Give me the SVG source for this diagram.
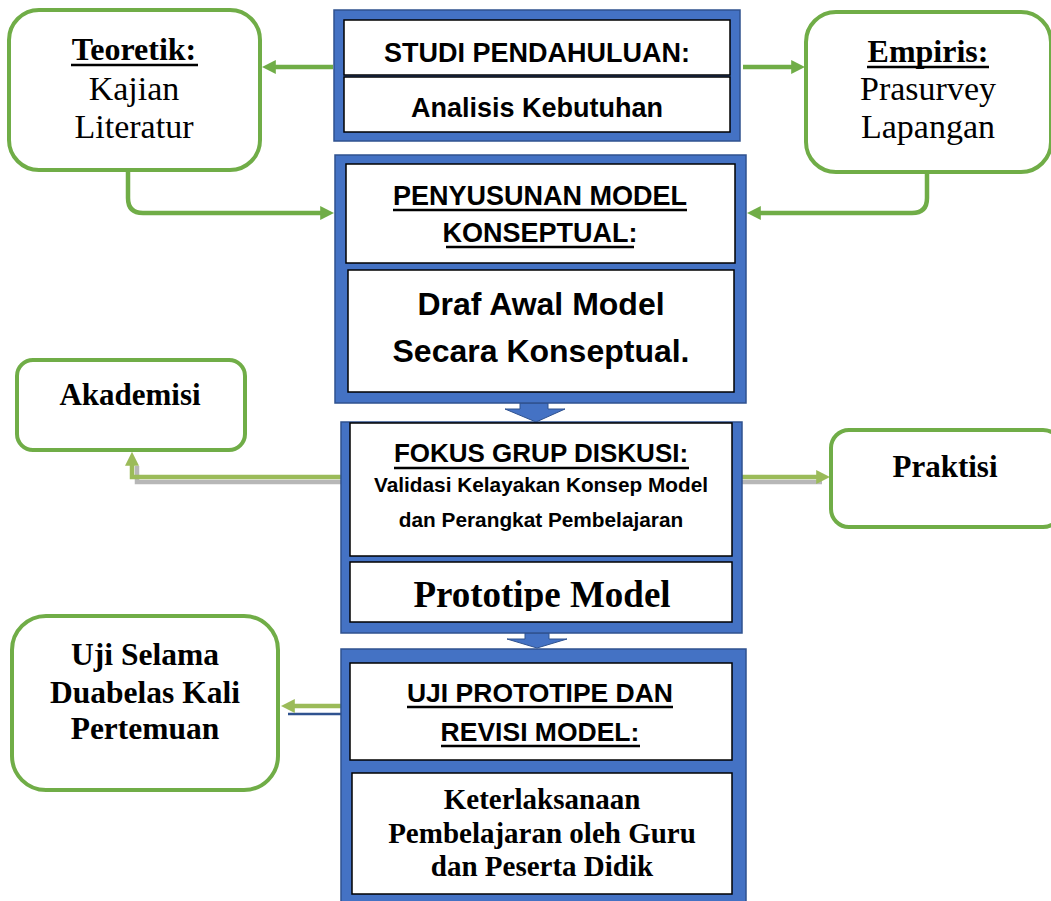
<svg xmlns="http://www.w3.org/2000/svg" width="1051" height="901" viewBox="0 0 1051 901">
<style>
.bg{fill:#ffffff}
.outer{fill:#4472C4;stroke:#2F528F;stroke-width:1.5}
.inner{fill:#ffffff;stroke:#000000;stroke-width:1.5}
.gbox{fill:#ffffff;stroke:#70AD47;stroke-width:4}
.hdr{font-family:"Liberation Sans",Arial,sans-serif;font-weight:bold;fill:#000;text-anchor:middle}
.ser{font-family:"Liberation Serif","Times New Roman",serif;fill:#000;text-anchor:middle}
.b{font-weight:bold}
.conn{fill:none;stroke:#70AD47;stroke-width:4.5}
.conn2{fill:none;stroke:#9BBB59;stroke-width:4.5}
.shadow{fill:none;stroke:#A5A5A5;stroke-width:4.5;opacity:0.8}
.ul{stroke:#000;stroke-width:2.5}
.down{fill:#4472C4;stroke:#2F528F;stroke-width:1}
</style>
<defs>
<marker id="ag" viewBox="0 0 10 10" refX="2" refY="5" markerWidth="14" markerHeight="14" markerUnits="userSpaceOnUse" orient="auto">
<path d="M0,0 L10,5 L0,10 z" fill="#70AD47"/>
</marker>
<marker id="ag2" viewBox="0 0 10 10" refX="2" refY="5" markerWidth="14" markerHeight="14" markerUnits="userSpaceOnUse" orient="auto">
<path d="M0,0 L10,5 L0,10 z" fill="#9BBB59"/>
</marker>
<clipPath id="protoClip"><rect x="350" y="562" width="382" height="49"/></clipPath>
</defs>
<rect class="bg" x="0" y="0" width="1051" height="901"/>

<g id="connectors">
<line class="conn" x1="333" y1="67" x2="273" y2="67" marker-end="url(#ag)"/>
<line class="conn" x1="743" y1="67" x2="794" y2="67" marker-end="url(#ag)"/>
<path class="conn" d="M128,171 V198 Q128,213 143,213 H323" marker-end="url(#ag)"/>
<path class="conn" d="M927,173 V198 Q927,213 912,213 H758" marker-end="url(#ag)"/>
<path class="shadow" d="M341,482 H137 V466"/>
<path class="conn2" d="M341,477 H132 V463" marker-end="url(#ag2)"/>
<path class="shadow" d="M742,482 H822"/>
<line class="conn2" x1="742" y1="477" x2="819" y2="477" marker-end="url(#ag2)"/>
<line x1="288" y1="714" x2="345" y2="714" stroke="#2F528F" stroke-width="2.5"/>
<line class="conn2" x1="345" y1="706" x2="292" y2="706" marker-end="url(#ag2)"/>
<polygon class="down" points="520,403 548,403 548,409 565,409 536,422 505,409 520,409"/>
<polygon class="down" points="525,633 549,633 549,639 567,639 537,648 507,639 525,639"/>
</g>

<g id="teoretik">
<rect class="gbox" x="9" y="10" width="251" height="160" rx="30"/>
<text class="ser b" x="134" y="60" font-size="32">Teoretik:</text>
<line class="ul" x1="71" y1="65" x2="198" y2="65"/>
<text class="ser" x="134" y="100" font-size="34">Kajian</text>
<text class="ser" x="134" y="138" font-size="34">Literatur</text>
</g>

<g id="empiris">
<rect class="gbox" x="806" y="12" width="245" height="160" rx="30"/>
<text class="ser b" x="928" y="62" font-size="32">Empiris:</text>
<line class="ul" x1="867" y1="67" x2="989" y2="67"/>
<text class="ser" x="928" y="100" font-size="34">Prasurvey</text>
<text class="ser" x="928" y="138" font-size="34">Lapangan</text>
</g>

<g id="studi">
<rect class="outer" x="334" y="10" width="406" height="131"/>
<rect class="inner" x="344" y="20" width="386" height="55"/>
<rect class="inner" x="344" y="77" width="386" height="55"/>
<text class="hdr" x="537" y="62" font-size="27">STUDI PENDAHULUAN:</text>
<text class="hdr" x="537" y="117" font-size="27">Analisis Kebutuhan</text>
</g>

<g id="penyusunan">
<rect class="outer" x="335" y="155" width="411" height="248"/>
<rect class="inner" x="346" y="164" width="389" height="99"/>
<rect class="inner" x="348" y="270" width="386" height="122"/>
<text class="hdr" x="540" y="205" font-size="27">PENYUSUNAN MODEL</text>
<line class="ul" x1="393" y1="210" x2="687" y2="210"/>
<text class="hdr" x="540" y="242" font-size="27">KONSEPTUAL:</text>
<line class="ul" x1="446" y1="247" x2="634" y2="247"/>
<text class="hdr" x="541" y="315" font-size="32">Draf Awal Model</text>
<text class="hdr" x="541" y="362" font-size="32">Secara Konseptual.</text>
</g>

<g id="akademisi">
<rect class="gbox" x="17" y="360" width="228" height="90" rx="16"/>
<text class="ser b" x="130" y="405" font-size="31">Akademisi</text>
</g>

<g id="praktisi">
<rect class="gbox" x="831" y="430" width="230" height="97" rx="18"/>
<text class="ser b" x="945" y="477" font-size="31">Praktisi</text>
</g>

<g id="fokus">
<rect class="outer" x="341" y="422" width="401" height="211"/>
<rect class="inner" x="350" y="423" width="382" height="133"/>
<rect class="inner" x="350" y="562" width="382" height="60"/>
<text class="hdr" x="541" y="462" font-size="26">FOKUS GRUP DISKUSI:</text>
<line class="ul" x1="394" y1="468" x2="689" y2="468"/>
<text class="hdr" x="541" y="492" font-size="20.8">Validasi Kelayakan Konsep Model</text>
<text class="hdr" x="541" y="527" font-size="20.8">dan Perangkat Pembelajaran</text>
<text class="ser b" x="542" y="607" font-size="37" clip-path="url(#protoClip)">Prototipe Model</text>
</g>

<g id="ujiselama">
<rect class="gbox" x="12" y="616" width="266" height="174" rx="34"/>
<text class="ser b" x="145" y="665" font-size="31.5">Uji Selama</text>
<text class="ser b" x="145" y="703" font-size="31.5">Duabelas Kali</text>
<text class="ser b" x="145" y="739" font-size="31.5">Pertemuan</text>
</g>

<g id="uji">
<rect class="outer" x="341" y="649" width="405" height="256"/>
<rect class="inner" x="350" y="663" width="382" height="97"/>
<rect class="inner" x="352" y="773" width="380" height="121"/>
<text class="hdr" x="540" y="702" font-size="26.5">UJI PROTOTIPE DAN</text>
<line class="ul" x1="407" y1="707" x2="673" y2="707"/>
<text class="hdr" x="540" y="741" font-size="26.5">REVISI MODEL:</text>
<line class="ul" x1="441" y1="746" x2="640" y2="746"/>
<text class="ser b" x="542" y="809" font-size="29">Keterlaksanaan</text>
<text class="ser b" x="542" y="843" font-size="29">Pembelajaran oleh Guru</text>
<text class="ser b" x="542" y="876" font-size="29">dan Peserta Didik</text>
</g>
</svg>
